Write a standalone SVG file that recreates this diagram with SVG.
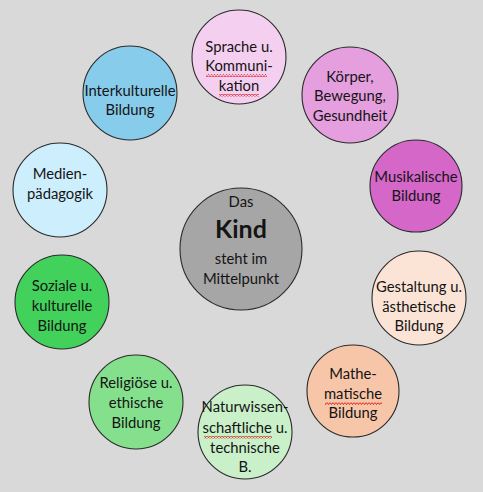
<svg xmlns="http://www.w3.org/2000/svg" width="483" height="492" viewBox="0 0 483 492">
<style>
.n{stroke:#2a2a2a;stroke-width:1.1}
.t{font-family:Lato,"Open Sans","Liberation Sans",sans-serif;font-size:14.8px;fill:#141414;text-anchor:middle}
.b{font-weight:bold;font-size:25px}
.sq{fill:url(#sq)}
</style>
<defs>
<pattern id="sq" width="3" height="3" patternUnits="userSpaceOnUse"><path d="M0,0.4 L1.5,2.6 L3,0.4" stroke="#d81c1c" stroke-width="0.9" fill="none"/></pattern>
</defs>
<rect width="483" height="492" fill="#d9d9d9"/>
<g id="connectors"></g>
<g id="center"><circle class="n" cx="241" cy="249" r="61" fill="#a6a6a6"/>
<text class="t" x="241" y="207">Das</text><text class="t b" x="241" y="238">Kind</text><text class="t" x="241" y="264">steht im</text><text class="t" x="241" y="284">Mittelpunkt</text></g>
<g id="sprache"><circle class="n" cx="239" cy="57" r="47" fill="#f5cff0"/>
<text class="t" x="239" y="52">Sprache u.</text><text class="t" x="239" y="71">Kommuni-</text><text class="t" x="239" y="91">kation</text>
<rect class="sq" x="206" y="74" width="61" height="3"/><rect class="sq" x="219" y="94" width="40" height="3"/></g>
<g id="koerper"><circle class="n" cx="350" cy="95" r="48" fill="#e59fdf"/>
<text class="t" x="350" y="82">Körper,</text><text class="t" x="350" y="101">Bewegung,</text><text class="t" x="350" y="121">Gesundheit</text></g>
<g id="musik"><circle class="n" cx="416" cy="186" r="46" fill="#d567c9"/>
<text class="t" x="416" y="182">Musikalische</text><text class="t" x="416" y="201">Bildung</text></g>
<g id="gestaltung"><circle class="n" cx="419" cy="298" r="47" fill="#fbe3d6"/>
<text class="t" x="419" y="292">Gestaltung u.</text><text class="t" x="419" y="312">ästhetische</text><text class="t" x="419" y="331">Bildung</text></g>
<g id="mathe"><circle class="n" cx="353" cy="391" r="46" fill="#f7c6a8"/>
<text class="t" x="353" y="379">Mathe-</text><text class="t" x="353" y="399">matische</text><text class="t" x="353" y="418">Bildung</text>
<rect class="sq" x="325" y="402" width="57" height="3"/></g>
<g id="natur"><circle class="n" cx="245" cy="432" r="47" fill="#c9f0c9"/>
<text class="t" x="245" y="412">Naturwissen-</text><text class="t" x="245" y="433">schaftliche u.</text><text class="t" x="245" y="453">technische</text><text class="t" x="245" y="472">B.</text>
<rect class="sq" x="204" y="436" width="68" height="3"/></g>
<g id="religion"><circle class="n" cx="136" cy="402" r="47" fill="#85e08d"/>
<text class="t" x="136" y="388">Religiöse u.</text><text class="t" x="136" y="408">ethische</text><text class="t" x="136" y="428">Bildung</text></g>
<g id="sozial"><circle class="n" cx="62" cy="302" r="47" fill="#42d25b"/>
<text class="t" x="62" y="291">Soziale u.</text><text class="t" x="62" y="311">kulturelle</text><text class="t" x="62" y="331">Bildung</text></g>
<g id="medien"><circle class="n" cx="60" cy="190" r="47" fill="#cdeefc"/>
<text class="t" x="60" y="179">Medien-</text><text class="t" x="60" y="199">pädagogik</text></g>
<g id="interkultur"><circle class="n" cx="130" cy="93" r="47" fill="#88ccec"/>
<text class="t" x="130" y="96">Interkulturelle</text><text class="t" x="130" y="115">Bildung</text></g>
</svg>
